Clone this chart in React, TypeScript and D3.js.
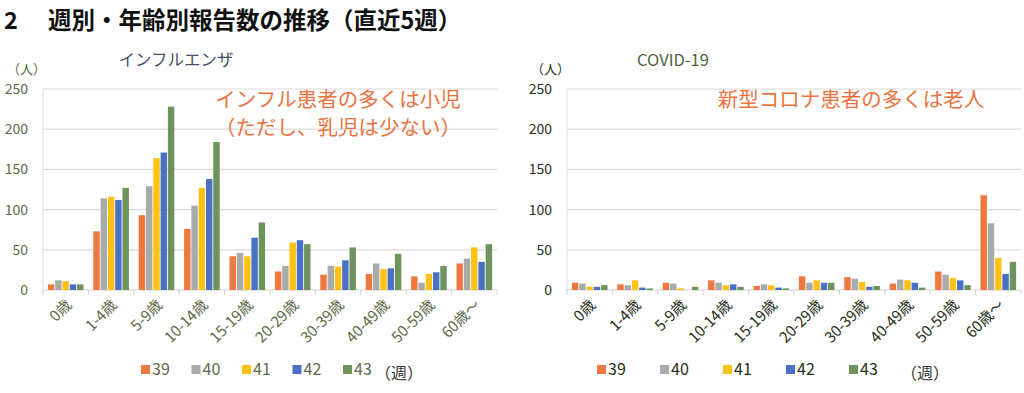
import React from "react"
import * as d3 from "d3"

const ageGroups = ["0歳", "1-4歳", "5-9歳", "10-14歳", "15-19歳", "20-29歳", "30-39歳", "40-49歳", "50-59歳", "60歳～"]
const weeks = ["39", "40", "41", "42", "43"]
const weekColors = ["#EF7840", "#A9ABA8", "#FEC116", "#4A72C4", "#6E935C"]
const yTicks = [0, 50, 100, 150, 200, 250]

// rows = age group, columns = week 39..43
const fluValues = [
  [7, 12, 11, 7, 7],
  [73, 114, 116, 112, 127],
  [93, 129, 164, 171, 228],
  [76, 105, 127, 138, 184],
  [42, 46, 42, 65, 84],
  [23, 30, 59, 62, 57],
  [19, 30, 29, 37, 53],
  [20, 33, 26, 27, 45],
  [17, 9, 20, 22, 30],
  [33, 39, 53, 35, 57],
]

const covidValues = [
  [9, 8, 4, 4, 6],
  [7, 6, 12, 3, 2],
  [9, 8, 2, 0, 4],
  [12, 9, 6, 7, 4],
  [5, 7, 6, 3, 2],
  [17, 9, 12, 9, 9],
  [16, 14, 10, 4, 5],
  [8, 13, 12, 9, 3],
  [23, 19, 15, 12, 6],
  [118, 83, 40, 20, 35],
]

const FONT = "'Noto Sans CJK JP', 'Noto Sans', sans-serif"

interface PanelProps {
  left: number
  right: number
  values: number[][]
  title: string
  titleX: number
  titleColor: string
  tickColor: string
  notes: string[]
  noteX: number
  legendX: number
  legendStep: number
  unitX: number
}

const Panel: React.FC<PanelProps> = ({
  left, right, values, title, titleX, titleColor, tickColor, notes, noteX, legendX, legendStep, unitX,
}) => {
  const top = 89
  const bottom = 290
  const y = d3.scaleLinear().domain([0, 250]).range([bottom, top])
  const x0 = d3.scaleBand<string>().domain(ageGroups).range([left, right])
  const x1 = d3
    .scaleBand<string>()
    .domain(weeks)
    .range([0, x0.bandwidth()])
    .paddingInner(0.12)
    .paddingOuter(0.67)

  return (
    <g fontFamily={FONT}>
      <text x={titleX} y={66} fontSize={16.5} fill={titleColor} textAnchor="middle">{title}</text>
      <text x={left - 36} y={74} fontSize={13} fill={tickColor}>（人）</text>

      {yTicks.map((t) => (
        <g key={t}>
          {t > 0 && (
            <line x1={left} x2={right} y1={y(t)} y2={y(t)} stroke="#dcdad6" strokeWidth={1.2} />
          )}
          <text x={left - 15} y={y(t) + 5} fontSize={14} fill={tickColor} textAnchor="end">{t}</text>
        </g>
      ))}

      <line x1={left} x2={left} y1={top} y2={bottom} stroke="#e2e0dc" strokeWidth={1} />
      <line x1={left} x2={right} y1={bottom} y2={bottom} stroke="#d4d2ce" strokeWidth={1.2} />
      {ageGroups.map((g) => (
        <line key={g} x1={x0(g)!} x2={x0(g)!} y1={bottom} y2={bottom + 5} stroke="#d4d2ce" />
      ))}
      <line x1={right} x2={right} y1={bottom} y2={bottom + 5} stroke="#d4d2ce" />

      {ageGroups.map((g, gi) =>
        weeks.map((w, wi) => {
          const v = values[gi][wi]
          return (
            <rect
              key={g + w}
              x={x0(g)! + x1(w)!}
              y={y(v)}
              width={x1.bandwidth()}
              height={bottom - y(v)}
              fill={weekColors[wi]}
            />
          )
        })
      )}

      {ageGroups.map((g) => {
        const cx = x0(g)! + x0.bandwidth() / 2 + 4
        return (
          <text
            key={g}
            transform={`translate(${cx},${bottom + 13}) rotate(-45)`}
            fontSize={15}
            fill={tickColor}
            textAnchor="end"
            dominantBaseline="middle"
          >
            {g}
          </text>
        )
      })}

      {notes.map((n, i) => (
        <text key={n} x={noteX} y={107 + i * 28} fontSize={20.5} fill="#EB7340" textAnchor="middle">{n}</text>
      ))}

      {weeks.map((w, i) => (
        <g key={w} transform={`translate(${legendX + i * legendStep},365)`}>
          <rect x={0} y={0} width={9} height={9} fill={weekColors[i]} />
          <text x={11} y={10} fontSize={16} fill={tickColor}>{w}</text>
        </g>
      ))}
      <text x={unitX} y={379} fontSize={16} fill="#333">（週）</text>
    </g>
  )
}

export default function App() {
  return (
    <div style={{ position: "fixed", left: 0, top: 0 }}>
      <svg width={1024} height={393} style={{ display: "block", background: "#fff" }}>
        <g fontFamily={FONT} fontSize={23.5} fontWeight="bold" fill="#111">
          <text x={4} y={29}>2</text>
          <text x={48} y={29}>週別・年齢別報告数の推移（直近5週）</text>
        </g>
        <Panel
          left={43}
          right={497}
          values={fluValues}
          title="インフルエンザ"
          titleX={176}
          titleColor="#3f5068"
          tickColor="#5c6b48"
          notes={["インフル患者の多くは小児", "（ただし、乳児は少ない）"]}
          noteX={338}
          legendX={141}
          legendStep={50.5}
          unitX={375}
        />
        <Panel
          left={567}
          right={1021}
          values={covidValues}
          title="COVID-19"
          titleX={673}
          titleColor="#4d6540"
          tickColor="#263020"
          notes={["新型コロナ患者の多くは老人"]}
          noteX={851}
          legendX={597}
          legendStep={63}
          unitX={901}
        />
      </svg>
    </div>
  )
}
